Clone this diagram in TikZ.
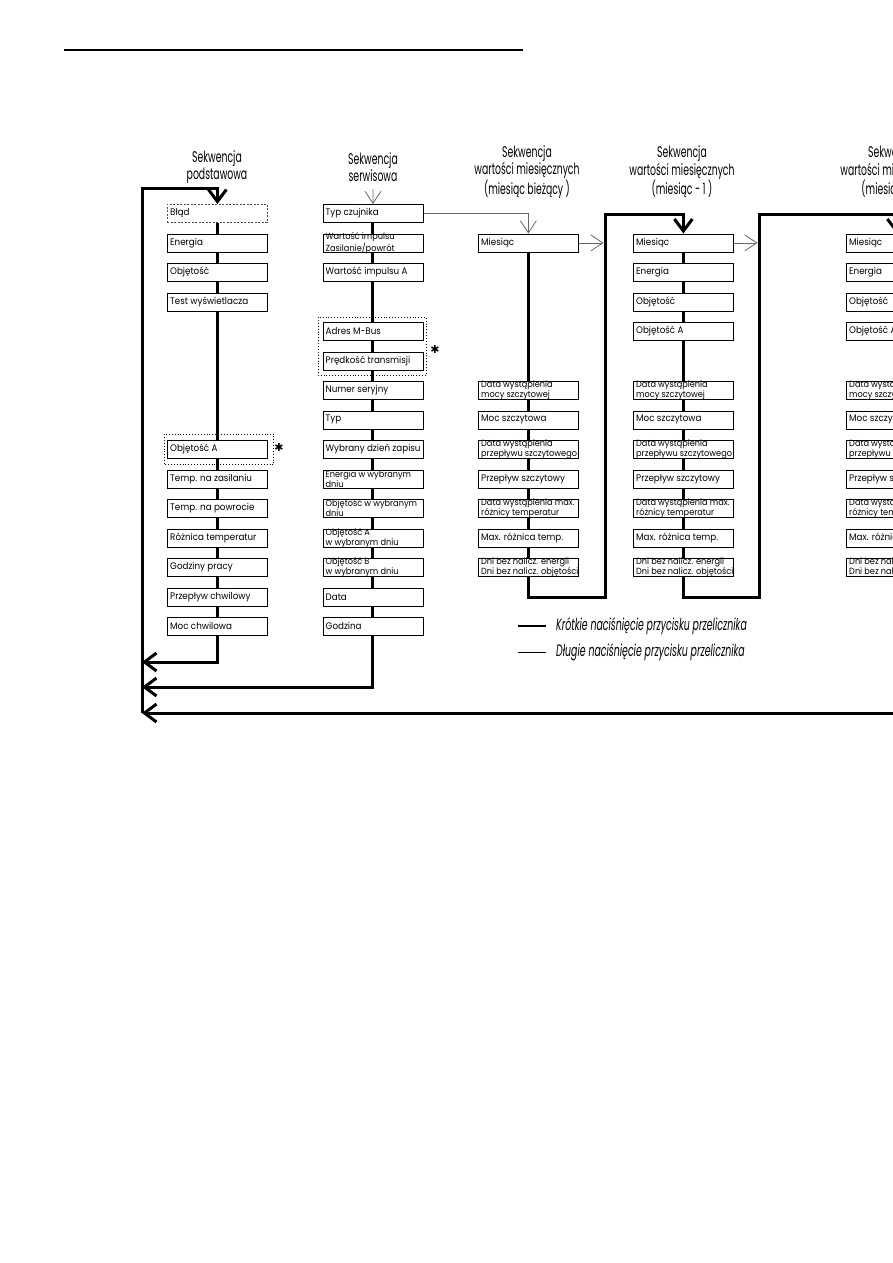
\documentclass[tikz,border=0pt]{standalone}
\usepackage{fontspec}
\setmainfont{Poppins}
\newfontfamily\boxfont[FakeStretch=0.92]{Poppins}
\newfontfamily\headfont[FakeStretch=0.6]{Poppins}
\newfontfamily\legfont[FakeStretch=0.57]{Poppins}
\newfontfamily\starfont{DejaVu Sans}
\usetikzlibrary{arrows.meta,backgrounds,calc}
\newcommand\mybox[5][box]{%
  \node[#1] (#2) at (#3,{204+29.5*#4}) {};
  \node[btxt] (#2t) at (#2.west) {#5};}
\newcommand\mytwo[5]{%
  \node[box] (#1) at (#2,{204+29.5*#3}) {};
  \node[btxttwo] (#1t) at (#1.west) {#4\\#5};}
\begin{document}
\begin{tikzpicture}[x=1pt,y=-1pt,
  box/.style={draw,fill=white,line width=0.8pt,minimum width=100pt,minimum height=18pt,inner sep=0pt,anchor=north west},
  dbox/.style={box,draw=black!70,dash pattern=on 2pt off 1.5pt},
  btxt/.style={anchor=west,inner sep=0pt,xshift=3pt,align=left,font=\boxfont\fontsize{9.5}{8}\selectfont},
  btxttwo/.style={anchor=west,inner sep=0pt,xshift=3pt,align=left,font=\boxfont\fontsize{8.9}{8.1}\selectfont},
  head/.style={align=center,inner sep=0pt,font=\headfont\fontsize{15.5}{14.5}\selectfont},
  flow/.style={line width=3pt},
  thinl/.style={line width=0.8pt,draw=black!60},
  tip/.style={-{Straight Barb[length=12pt,width=18pt]}},
  thintip/.style={-{Straight Barb[length=12pt,width=16pt]}},
  dotbox/.style={dotted,line width=0.9pt},
  star/.style={inner sep=0pt,font=\starfont\fontsize{11}{11}\selectfont},
  legtxt/.style={anchor=west,inner sep=0pt,font=\legfont\itshape\fontsize{16.5}{16}\selectfont}
]
\useasboundingbox (0,0) rectangle (893,1263);
\clip (0,0) rectangle (893,1263);
% top rule
\coordinate (TRa) at (64,50); \coordinate (TRb) at (523,50);
\draw[line width=1.2pt] (TRa) -- (TRb);

% headers
\node[head] (h1) at (217,167) {Sekwencja\\podstawowa};
\node[head] (h2) at (373,167) {Sekwencja\\serwisowa};
\node[head] (h3) at (527,172) {Sekwencja\\wartości miesięcznych\\(miesiąc bieżący )};
\node[head] (h4) at (682,172) {Sekwencja\\wartości miesięcznych\\(miesiąc - 1 )};
\node[head] (h5) at (893,172) {Sekwencja\\wartości miesięcznych\\(miesiąc - 2 )};

% column 1
\mybox[dbox]{blad}{167}{0}{Błąd}
\mybox{en1}{167}{1}{Energia}
\mybox{ob1}{167}{2}{Objętość}
\mybox{test}{167}{3}{Test wyświetlacza}
\mybox{oba1}{167}{8}{Objętość A}
\mybox{tz}{167}{9}{Temp. na zasilaniu}
\mybox{tp}{167}{10}{Temp. na powrocie}
\mybox{rt}{167}{11}{Różnica temperatur}
\mybox{gp}{167}{12}{Godziny pracy}
\mybox{pc}{167}{13}{Przepływ chwilowy}
\mybox{moc}{167}{14}{Moc chwilowa}
\draw[dotbox] ($(oba1.north west)+(-3,-6)$) rectangle ($(oba1.south east)+(6,6)$);
\node[star] (st1) at (279,447) {✱};

% column 2
\mybox{typ}{322.5}{0}{Typ czujnika}
\mytwo{wi}{322.5}{1}{Wartość impulsu}{Zasilanie/powrót}
\mybox{wia}{322.5}{2}{Wartość impulsu A}
\mybox{mbus}{322.5}{4}{Adres M-Bus}
\mybox{pred}{322.5}{5}{Prędkość transmisji}
\mybox{nr}{322.5}{6}{Numer seryjny}
\mybox{typb}{322.5}{7}{Typ}
\mybox{wdz}{322.5}{8}{Wybrany dzień zapisu}
\mytwo{ewd}{322.5}{9}{Energia w wybranym}{dniu}
\mytwo{owd}{322.5}{10}{Objętość w wybranym}{dniu}
\mytwo{oawd}{322.5}{11}{Objętość A}{w wybranym dniu}
\mytwo{obwd}{322.5}{12}{Objętość B}{w wybranym dniu}
\mybox{data}{322.5}{13}{Data}
\mybox{godz}{322.5}{14}{Godzina}
\draw[dotbox] ($(mbus.north west)+(-4.5,-5)$) rectangle ($(pred.south east)+(3,5)$);
\node[star] (st2) at (435,349) {✱};

% column 3
\mybox{m3}{478}{1}{Miesiąc}
\mytwo{dm3}{478}{6}{Data wystąpienia}{mocy szczytowej}
\mybox{ms3}{478}{7}{Moc szczytowa}
\mytwo{dp3}{478}{8}{Data wystąpienia}{przepływu szczytowego}
\mybox{ps3}{478}{9}{Przepływ szczytowy}
\mytwo{dr3}{478}{10}{Data wystąpienia max.}{różnicy temperatur}
\mybox{mr3}{478}{11}{Max. różnica temp.}
\mytwo{d3}{478}{12}{Dni bez nalicz. energii}{Dni bez nalicz. objętości}

% column 4
\mybox{m4}{633}{1}{Miesiąc}
\mybox{e4}{633}{2}{Energia}
\mybox{o4}{633}{3}{Objętość}
\mybox{oa4}{633}{4}{Objętość A}
\mytwo{dm4}{633}{6}{Data wystąpienia}{mocy szczytowej}
\mybox{ms4}{633}{7}{Moc szczytowa}
\mytwo{dp4}{633}{8}{Data wystąpienia}{przepływu szczytowego}
\mybox{ps4}{633}{9}{Przepływ szczytowy}
\mytwo{dr4}{633}{10}{Data wystąpienia max.}{różnicy temperatur}
\mybox{mr4}{633}{11}{Max. różnica temp.}
\mytwo{d4}{633}{12}{Dni bez nalicz. energii}{Dni bez nalicz. objętości}

% column 5
\mybox{m5}{846}{1}{Miesiąc}
\mybox{e5}{846}{2}{Energia}
\mybox{o5}{846}{3}{Objętość}
\mybox{oa5}{846}{4}{Objętość A}
\mytwo{dm5}{846}{6}{Data wystąpienia}{mocy szczytowej}
\mybox{ms5}{846}{7}{Moc szczytowa}
\mytwo{dp5}{846}{8}{Data wystąpienia}{przepływu szczytowego}
\mybox{ps5}{846}{9}{Przepływ szczytowy}
\mytwo{dr5}{846}{10}{Data wystąpienia max.}{różnicy temperatur}
\mybox{mr5}{846}{11}{Max. różnica temp.}
\mytwo{d5}{846}{12}{Dni bez nalicz. energii}{Dni bez nalicz. objętości}

% coordinates
\coordinate (LT) at (142,188);
\coordinate (R1) at (142,662);
\coordinate (R2) at (142,687);
\coordinate (R3) at (142,713);
\coordinate (E3) at (900,713);
\coordinate (in2) at (373,189);
\coordinate (V34b) at (605,597);
\coordinate (V34t) at (605,214);
\coordinate (V45b) at (759,597);
\coordinate (V45t) at (759,214);

% legend
\coordinate (La) at (518,626); \coordinate (Lb) at (546,626);
\coordinate (Ma) at (518,652); \coordinate (Mb) at (546,652);
\draw[line width=2.4pt] (La) -- (Lb);
\draw[line width=0.9pt] (Ma) -- (Mb);
\node[legtxt] (leg1) at (556,626) {Krótkie naciśnięcie przycisku przelicznika};
\node[legtxt] (leg2) at (556,652) {Długie naciśnięcie przycisku przelicznika};

\begin{pgfonlayer}{background}
  % column 1
  \draw[flow] (blad) -- (moc);
  \draw[flow,tip] (moc.south) -- (moc.south |- R1) -- (R1);
  \draw[flow,tip] (R3) -- (LT) -- (LT -| blad.north) -- (blad.north);
  % column 2
  \draw[thinl,thintip] (in2) -- (typ.north);
  \draw[flow] (typ) -- (godz);
  \draw[flow,tip] (godz.south) -- (godz.south |- R2) -- (R2);
  \draw[flow,tip] (E3) -- (R3);
  \draw[thinl,thintip] (typ.east) -| (m3.north);
  % column 3
  \draw[flow] (m3) -- (d3);
  \draw[flow,tip] (d3.south) -- (d3.south |- V34b) -- (V34b) -- (V34t) -- (V34t -| m4.north) -- (m4.north);
  \draw[thinl,thintip,shorten >=1.5pt] (m3.east) -- (m3.east -| V34t);
  % column 4
  \draw[flow] (m4) -- (d4);
  \draw[flow,tip] (d4.south) -- (d4.south |- V45b) -- (V45b) -- (V45t) -- (V45t -| m5.north) -- (m5.north);
  \draw[thinl,thintip,shorten >=1.5pt] (m4.east) -- (m4.east -| V45t);
  % column 5
  \draw[flow] (m5) -- (d5);
\end{pgfonlayer}
\end{tikzpicture}
\end{document}
